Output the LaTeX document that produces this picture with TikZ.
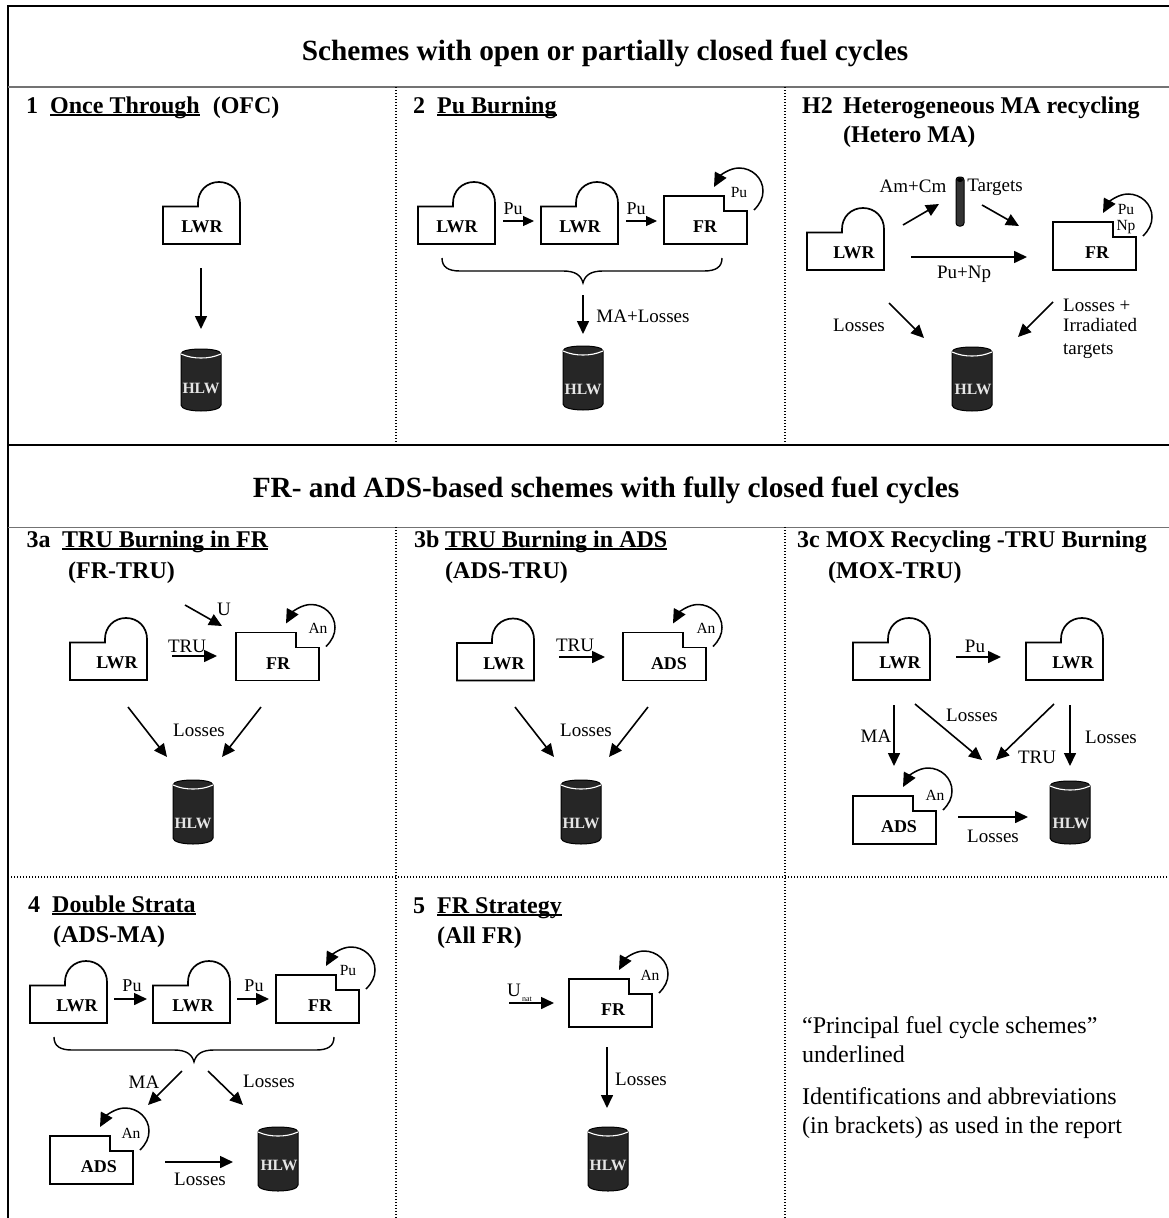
\documentclass[tikz,border=0pt]{standalone}
\usepackage{fontspec}
\setmainfont{Liberation Serif}
\usetikzlibrary{arrows.meta}
\newcommand\fs[1]{\fontsize{#1}{#1}\selectfont}
\newcommand\ulin[1]{\setbox0\hbox{#1}\rlap{\rule[-2.6pt]{\wd0}{1.2pt}}\box0}
\tikzset{
  unitline/.style={draw=black,line width=1.7pt,line join=miter},
  flow/.style={draw=black,line width=1.6pt,-{Triangle[length=13pt,width=12pt]}},
  thinflow/.style={draw=black,line width=1.2pt,-{Triangle[length=11pt,width=10pt]}},
  loopline/.style={draw=black,line width=1.5pt,-{Triangle[length=14pt,width=13pt]}},
  label/.style={inner sep=0pt,font=\fs{19}},
  smalllabel/.style={inner sep=0pt,font=\fs{18}},
  looplabel/.style={inner sep=0pt,font=\fs{15.5},align=center},
  unitlabel/.style={inner sep=0pt,font=\fs{18}\bfseries},
  title/.style={inner sep=0pt,anchor=base west,font=\fs{24}\bfseries},
  header/.style={inner sep=0pt,anchor=base,font=\fs{29.3}\bfseries},
  note/.style={inner sep=0pt,anchor=base west,font=\fs{24}},
  frameline/.style={draw=black,line width=1.6pt},
  greyline/.style={draw=black!55,line width=1.6pt},
  darkline/.style={draw=black,line width=1.4pt},
  dotline/.style={draw=black,line width=1.2pt,dash pattern=on 1.2pt off 1.8pt},
}
% #1 name, #2 x, #3 y of lower-left corner, #4 label dx
\newcommand\lwr[4]{\begin{scope}[shift={(#2,#3)}]
  \draw[unitline] (0,-37.5) -- (35,-37.5) -- (35,-41)
    .. controls (35,-53) and (44,-62) .. (56,-62)
    .. controls (68,-62) and (77,-53) .. (77,-41) -- (77,0) -- (0,0) -- cycle;
  \node[unitlabel] (#1) at (#4,-17) {LWR};
\end{scope}}
% #1 name, #2 x, #3 y, #4 text, #5 label dx, #6 loop text, #7 loop text position
\newcommand\stepped[7]{\begin{scope}[shift={(#2,#3)}]
  \draw[unitline] (0,-48) -- (60,-48) -- (60,-33) -- (83,-33) -- (83,0) -- (0,0) -- cycle;
  \node[unitlabel] (#1) at (#5,-17) {#4};
  \node[looplabel] (#1 loop) at (#7) {#6};
  \coordinate (#1 ls) at (90,-34);
  \coordinate (#1 lt) at (50,-57);
  \draw[loopline] (#1 ls) .. controls (96,-40) and (99,-46) .. (99,-53)
    .. controls (99,-66) and (88,-76) .. (75,-76)
    .. controls (65,-76) and (56,-68) .. (#1 lt);
\end{scope}}
% #1 name, #2 centre x, #3 top, #4 height, #5 text dx, #6 text dy
\newcommand\hlw[6]{\begin{scope}[shift={(#2,#3)}]
  \draw[fill=black!85,draw=black,line width=1pt] (-20,5)
    .. controls (-20,1.5) and (-10,0) .. (0,0)
    .. controls (10,0) and (20,1.5) .. (20,5) -- (20,#4-6)
    .. controls (20,#4-2) and (10,#4) .. (0,#4)
    .. controls (-10,#4) and (-20,#4-2) .. (-20,#4-6) -- cycle;
  \draw[white,line width=1.1pt] (-20,5) .. controls (-13,8) and (-7,9) .. (0,9)
    .. controls (7,9) and (13,8) .. (20,5);
  \node[inner sep=0pt,text=white!90!black,font=\fs{15.7}\bfseries] (#1) at (#5,#6) {HLW};
\end{scope}}
% #1 name, #2 x1, #3 x2, #4 mid x, #5 y
\newcommand\curlybrace[5]{\begin{scope}[shift={(0,#5)}]
  \coordinate (#1 tip) at (#4,25);
  \draw[black,line width=1.4pt] (#2,0) .. controls (#2,9) and (#2+6,13) .. (#2+18,13) -- (#4-20,13)
    .. controls (#4-8,13) and (#4-2,17) .. (#1 tip)
    .. controls (#4+2,17) and (#4+8,13) .. (#4+20,13) -- (#3-18,13)
    .. controls (#3-6,13) and (#3,9) .. (#3,0);
\end{scope}}
% #1 style, #2 name, #3 start, #4 end
\newcommand\arrowline[4]{\coordinate (#2 s) at (#3); \coordinate (#2 e) at (#4);
  \draw[#1] (#2 s) -- (#2 e);}
\begin{document}
\begin{tikzpicture}[x=1pt,y=-1pt]
\useasboundingbox (0,0) rectangle (1169,1218);
\fill[white] (0,0) rectangle (1169,1218);
% frame
\coordinate (fTL) at (8,6); \coordinate (fTR) at (1169,6); \coordinate (fBL) at (8,1218);
\draw[frameline] (fBL) -- (fTL) -- (fTR);
\coordinate (h1a) at (8,87); \coordinate (h1b) at (1169,87);
\coordinate (h2a) at (8,445); \coordinate (h2b) at (1169,445);
\coordinate (h3a) at (8,527.5); \coordinate (h3b) at (1169,527.5);
\draw[greyline] (h1a) -- (h1b);
\draw[darkline] (h2a) -- (h2b);
\draw[greyline] (h3a) -- (h3b);
\coordinate (d1a) at (396,87); \coordinate (d1b) at (396,445);
\coordinate (d2a) at (785,87); \coordinate (d2b) at (785,445);
\coordinate (d3a) at (396,527); \coordinate (d3b) at (396,1218);
\coordinate (d4a) at (785,527); \coordinate (d4b) at (785,1218);
\coordinate (d5a) at (8,877); \coordinate (d5b) at (1169,877);
\draw[dotline] (d1a) -- (d1b);
\draw[dotline] (d2a) -- (d2b);
\draw[dotline] (d3a) -- (d3b);
\draw[dotline] (d4a) -- (d4b);
\draw[dotline] (d5a) -- (d5b);
% headers
\node[header] (hdA) at (605,60) {Schemes with open or partially closed fuel cycles};
\node[header] (hdB) at (606,497.5) {FR- and ADS-based schemes with fully closed fuel cycles};
% titles
\node[title] (t1n) at (26,113) {1};
\node[title] (t1) at (50,113) {\ulin{Once Through}\hspace{13pt}(OFC)};
\node[title] (t2n) at (413,113) {2};
\node[title] (t2) at (437,113) {\ulin{Pu Burning}};
\node[title] (t3n) at (802,113) {H2};
\node[title] (t3) at (843,113) {Heterogeneous MA recycling};
\node[title] (t3b) at (843,142) {(Hetero MA)};
\node[title] (t4n) at (26.5,547) {3a};
\node[title] (t4) at (62,547) {\ulin{TRU Burning in FR}};
\node[title] (t4b) at (68,578) {(FR-TRU)};
\node[title] (t5n) at (414,547) {3b};
\node[title] (t5) at (445,547) {\ulin{TRU Burning in ADS}};
\node[title] (t5b) at (445,578) {(ADS-TRU)};
\node[title] (t6n) at (797,547) {3c};
\node[title] (t6) at (826,547) {MOX Recycling -TRU Burning};
\node[title] (t6b) at (828,578) {(MOX-TRU)};
\node[title] (t7n) at (28,912) {4};
\node[title] (t7) at (52,912) {\ulin{Double Strata}};
\node[title] (t7b) at (53,942) {(ADS-MA)};
\node[title] (t8n) at (413,913) {5};
\node[title] (t8) at (437,913) {\ulin{FR Strategy}};
\node[title] (t8b) at (437,943) {(All FR)};
% panel 1
\lwr{a1}{163}{244}{39}
\hlw{a2}{201}{349}{62}{0}{39}
\arrowline{flow}{a3}{201,268}{201,329}
% panel 2
\lwr{b1}{418}{244}{39}
\lwr{b2}{541}{244}{39}
\stepped{b3}{664}{244}{FR}{41}{Pu}{75,-52}
\hlw{b4}{583}{346}{64}{0}{43}
\node[smalllabel] (b5) at (513,209) {Pu};
\node[smalllabel] (b6) at (636,209) {Pu};
\arrowline{thinflow}{b7}{503,221}{534,221}
\arrowline{thinflow}{b8}{626,221}{657,221}
\curlybrace{b9}{442}{722}{583}{258}
\arrowline{flow}{b10}{583,295}{583,334}
\node[label] (b11) at (643,316) {MA+Losses};
% panel H2
\lwr{c1}{807}{270}{47}
\stepped{c2}{1053}{270}{FR}{44}{Pu\\[1pt]Np}{73,-51}
\hlw{c3}{972}{347}{64}{1}{42}
\node[label] (c4) at (913,186) {Am+Cm};
\node[label] (c5) at (995,187.5) {Targets};
\draw[fill=black!80,draw=black,line width=1pt,rounded corners=3pt] (956,177) rectangle (964,226);
\fill[black] (960,180) ellipse (3pt and 2pt);
\arrowline{flow}{c6}{903,225}{939,204}
\arrowline{flow}{c7}{982,205}{1019,226}
\arrowline{flow}{c8}{911,257}{1027,257}
\node[label] (c9) at (964,274) {Pu+Np};
\arrowline{flow}{c10}{889,303}{924,338}
\arrowline{flow}{c11}{1053,302}{1018,337}
\node[label] (c12) at (859,325) {Losses};
\node[label,anchor=base west] (c13) at (1063,311) {Losses +};
\node[label,anchor=base west] (c14) at (1063,331) {Irradiated};
\node[label,anchor=base west] (c15) at (1063,354) {targets};
% panel 3a
\lwr{d1}{70}{680}{47}
\stepped{d2}{236}{680.5}{FR}{42}{An}{82,-52}
\hlw{d3}{193}{780}{64}{0}{43}
\node[label] (d4) at (187,646) {TRU};
\arrowline{flow}{d5}{172,656}{217,656}
\node[label] (d6) at (224,609) {U};
\arrowline{flow}{d7}{185,605}{222,626}
\arrowline{flow}{d8}{128,707}{167,757}
\arrowline{flow}{d9}{261,707}{222,757}
\node[label] (d10) at (199,730) {Losses};
% panel 3b
\lwr{e1}{457}{680.5}{47}
\stepped{e2}{623}{680.5}{ADS}{46}{An}{83,-52}
\hlw{e3}{581}{780}{64}{0}{43}
\node[label] (e4) at (575,645) {TRU};
\arrowline{flow}{e5}{559,657}{605,657}
\arrowline{flow}{e6}{515,707}{554,757}
\arrowline{flow}{e7}{648,707}{609,757}
\node[label] (e8) at (586,730) {Losses};
% panel 3c
\lwr{f1}{853}{680}{47}
\lwr{f2}{1026}{680}{47}
\stepped{f3}{853}{844}{ADS}{46}{An}{82,-49}
\hlw{f4}{1070}{781}{63}{1}{42}
\node[label] (f5) at (975,646) {Pu};
\arrowline{flow}{f6}{956,657}{1001,657}
\arrowline{flow}{f7}{894,705}{894,766}
\node[label] (f8) at (876,736) {MA};
\arrowline{flow}{f9}{915,704}{982,760}
\node[label] (f10) at (972,715) {Losses};
\arrowline{flow}{f11}{1054,704}{996,760}
\node[label] (f12) at (1037,757) {TRU};
\arrowline{flow}{f13}{1070,705}{1070,766}
\node[label] (f14) at (1111,737) {Losses};
\arrowline{flow}{f15}{958,817}{1028,817}
\node[label] (f16) at (993,836) {Losses};
% panel 4
\lwr{g1}{30}{1023}{47}
\lwr{g2}{153}{1023}{40}
\stepped{g3}{276}{1023}{FR}{44}{Pu}{72,-53}
\node[smalllabel] (g4) at (132,986) {Pu};
\node[smalllabel] (g5) at (254,986) {Pu};
\arrowline{flow}{g6}{114,999}{147,999}
\arrowline{flow}{g7}{237,999}{269,999}
\curlybrace{g8}{54}{334}{194}{1037}
\arrowline{flow}{g9}{182,1071}{148,1105}
\node[label] (g10) at (144,1082) {MA};
\arrowline{flow}{g11}{208,1071}{243,1105}
\node[label] (g12) at (269,1081) {Losses};
\stepped{g13}{50}{1184}{ADS}{49}{An}{81,-51}
\arrowline{flow}{g14}{165,1162}{233,1162}
\node[label] (g15) at (200,1179) {Losses};
\hlw{g16}{278}{1127}{64}{1}{38}
% panel 5
\stepped{k1}{569}{1027}{FR}{44}{An}{81,-52}
\node[label] (k2) at (514,990) {U};
\node[inner sep=0pt,font=\fs{8}] (k3) at (527,999) {nat};
\arrowline{flow}{k4}{509,1003}{554,1003}
\arrowline{flow}{k5}{607,1047}{607,1108}
\node[label] (k6) at (641,1079) {Losses};
\hlw{k7}{608}{1127}{64}{0}{38}
% notes
\node[note] (n1) at (802,1033) {“Principal fuel cycle schemes”};
\node[note] (n2) at (802,1062) {underlined};
\node[note] (n3) at (802,1104) {Identifications and abbreviations};
\node[note] (n4) at (802,1133) {(in brackets) as used in the report};
\end{tikzpicture}
\end{document}
